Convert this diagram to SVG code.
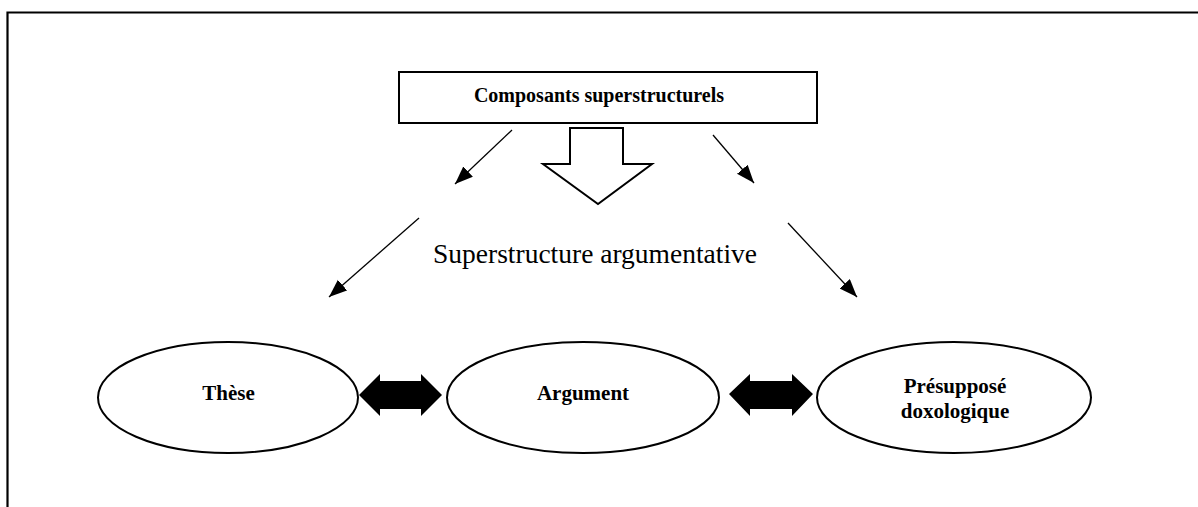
<svg xmlns="http://www.w3.org/2000/svg" width="1198" height="507" viewBox="0 0 1198 507">
  <style>
    .frame { fill: none; stroke: #000; stroke-width: 2.2; }
    .shape { fill: #fff; stroke: #000; stroke-width: 2; }
    .thin { fill: none; stroke: #000; stroke-width: 1.3; marker-end: url(#ah); }
    .solid { fill: #000; stroke: none; }
    .lbl { font-family: "Liberation Serif", "Times New Roman", serif; font-weight: bold; text-anchor: middle; fill: #000; }
    .big { font-family: "Liberation Serif", "Times New Roman", serif; font-size: 27.5px; text-anchor: middle; fill: #000; }
  </style>
  <defs>
    <marker id="ah" markerUnits="userSpaceOnUse" markerWidth="19" markerHeight="15" refX="18" refY="7" orient="auto">
      <path d="M0,0 L18,7 L0,14 z" fill="#000"/>
    </marker>
  </defs>
  <rect width="1198" height="507" fill="#fff"/>
  <path class="frame" d="M7.5,507 L7.5,12.5 L1198,12.5"/>

  <g id="composants">
    <rect class="shape" x="399" y="72" width="418" height="51"/>
    <text class="lbl" x="599" y="102" font-size="20">Composants superstructurels</text>
  </g>

  <g id="superstructure">
    <polygon class="shape" points="570,128 623,128 623,164 652,164 598,204 543,164 570,164"/>
    <text class="big" x="595" y="263">Superstructure argumentative</text>
  </g>

  <g id="these">
    <ellipse class="shape" cx="228" cy="397.5" rx="130" ry="55.5"/>
    <text class="lbl" x="228.5" y="399.5" font-size="21">Thèse</text>
  </g>

  <g id="argument">
    <ellipse class="shape" cx="583" cy="397.5" rx="136" ry="55.5"/>
    <text class="lbl" x="583" y="399.5" font-size="21">Argument</text>
  </g>

  <g id="presuppose">
    <ellipse class="shape" cx="954" cy="397.5" rx="137" ry="55.5"/>
    <text class="lbl" x="955" y="393" font-size="21">Présupposé</text>
    <text class="lbl" x="955" y="418" font-size="21">doxologique</text>
  </g>

  <g id="connectors">
    <line class="thin" x1="512" y1="130" x2="455" y2="184"/>
    <line class="thin" x1="713" y1="135" x2="754" y2="183"/>
    <line class="thin" x1="419" y1="218" x2="329" y2="297"/>
    <line class="thin" x1="788" y1="223" x2="857" y2="297"/>
    <polygon class="solid" points="359,395 380,374 380,381 421,381 421,374 442,395 421,416 421,409 380,409 380,416"/>
    <polygon class="solid" points="729,394 750,374 750,381 792,381 792,374 813,394 792,416 792,409 750,409 750,416"/>
  </g>
</svg>
